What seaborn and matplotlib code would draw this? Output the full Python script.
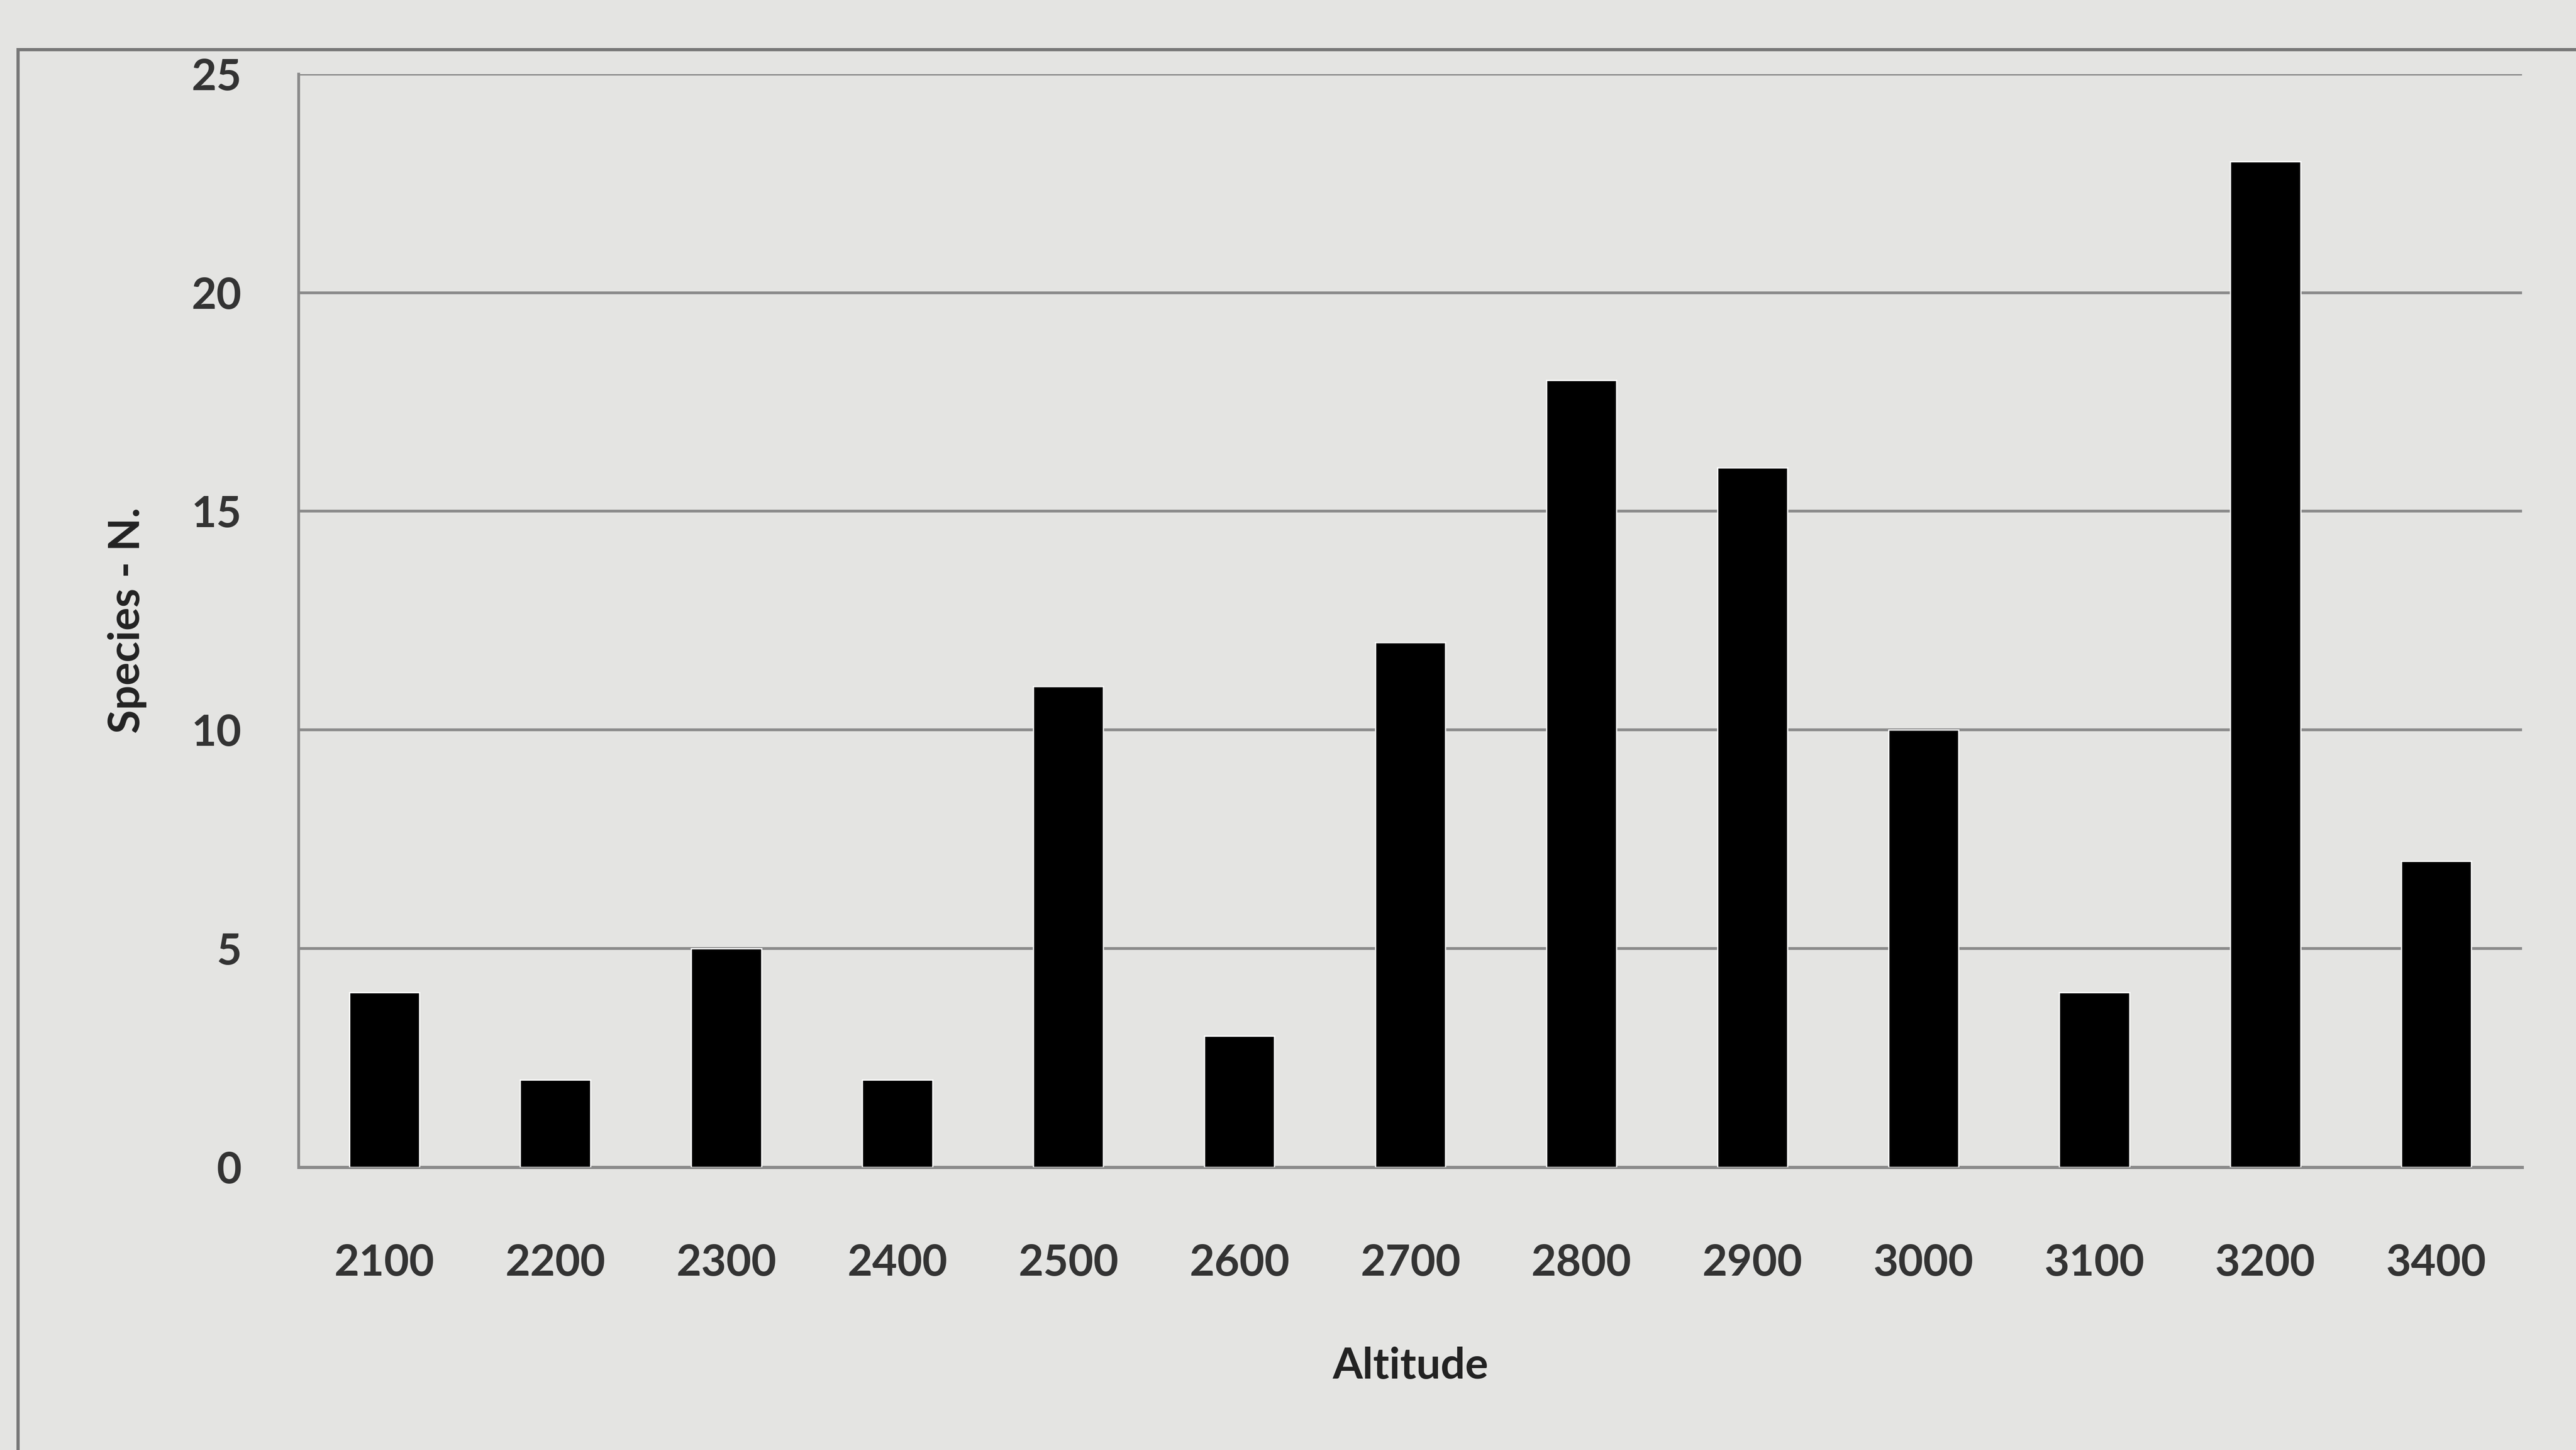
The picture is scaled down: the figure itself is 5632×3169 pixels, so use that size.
import matplotlib
matplotlib.use("Agg")
import matplotlib.pyplot as plt
import seaborn as sns
import pandas as pd
from matplotlib.patches import Rectangle

altitudes = ["2100", "2200", "2300", "2400", "2500", "2600", "2700",
             "2800", "2900", "3000", "3100", "3200", "3400"]
species_n = [4, 2, 5, 2, 11, 3, 12, 18, 16, 10, 4, 23, 7]
y_ticks = [0, 5, 10, 15, 20, 25]

df = pd.DataFrame({"Altitude": altitudes, "Species": species_n})

sns.set_style("white")
plt.rcParams["font.family"] = ["Lato", "DejaVu Sans"]

bg = "#e4e4e2"
fig, ax = plt.subplots(figsize=(28.16, 15.845), dpi=200)
fig.patch.set_facecolor(bg)
ax.set_facecolor(bg)
fig.subplots_adjust(left=0.116, right=0.979, top=0.949, bottom=0.195)

sns.barplot(data=df, x="Altitude", y="Species", color="black", width=0.41,
            saturation=1, ax=ax, zorder=3)

ax.set_ylim(0, 25)
ax.set_yticks(y_ticks)
ax.yaxis.grid(True, color="#8a8a8a", linewidth=2.2, zorder=0)
ax.set_axisbelow(True)
for side in ["top", "right"]:
    ax.spines[side].set_visible(False)
ax.spines["left"].set_color("#8a8a8a")
ax.spines["left"].set_linewidth(2.2)
ax.spines["bottom"].set_color("#8a8a8a")
ax.spines["bottom"].set_linewidth(2.5)

ax.tick_params(axis="both", length=0, labelsize=34, colors="#333333")
ax.tick_params(axis="x", pad=60)
ax.tick_params(axis="y", pad=45)
for lbl in ax.get_xticklabels() + ax.get_yticklabels():
    lbl.set_fontweight("bold")

ax.set_xlabel("Altitude", fontsize=34, fontweight="bold", color="#222222", labelpad=50)
ax.set_ylabel("Species - N.", fontsize=34, fontweight="bold", color="#222222", labelpad=35)

# outer chart border
fig.patches.append(Rectangle((0.007, -0.01), 1.2, 0.976, transform=fig.transFigure,
                             fill=False, edgecolor="#777777", linewidth=2.5))

fig.savefig("out.png", dpi=200, facecolor=bg)
